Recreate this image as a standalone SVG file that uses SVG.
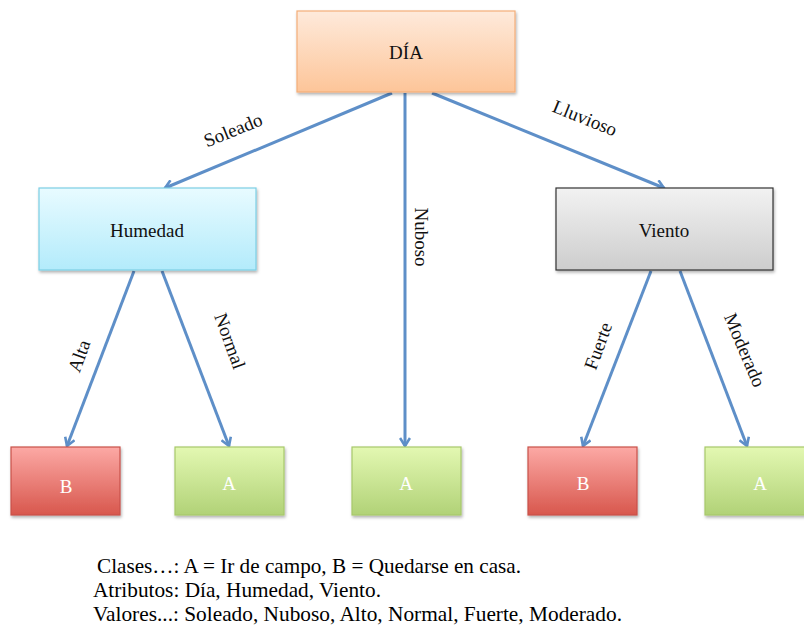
<svg xmlns="http://www.w3.org/2000/svg" width="804" height="628" viewBox="0 0 804 628">
  <defs>
    <linearGradient id="gDia" x1="0" y1="0" x2="0" y2="1">
      <stop offset="0" stop-color="#feeadb"/>
      <stop offset="1" stop-color="#fdc599"/>
    </linearGradient>
    <linearGradient id="gHum" x1="0" y1="0" x2="0" y2="1">
      <stop offset="0" stop-color="#e8fbff"/>
      <stop offset="1" stop-color="#b3ebfb"/>
    </linearGradient>
    <linearGradient id="gVie" x1="0" y1="0" x2="0" y2="1">
      <stop offset="0" stop-color="#f2f2f2"/>
      <stop offset="1" stop-color="#cdcdcd"/>
    </linearGradient>
    <linearGradient id="gB" x1="0" y1="0" x2="0" y2="1">
      <stop offset="0" stop-color="#fca9a5"/>
      <stop offset="1" stop-color="#d8574d"/>
    </linearGradient>
    <linearGradient id="gA" x1="0" y1="0" x2="0" y2="1">
      <stop offset="0" stop-color="#e3f8b2"/>
      <stop offset="1" stop-color="#b1d277"/>
    </linearGradient>
    <filter id="shadow" x="-10%" y="-10%" width="125%" height="130%">
      <feDropShadow dx="1" dy="2" stdDeviation="1.5" flood-color="#000" flood-opacity="0.3"/>
    </filter>
    <marker id="arrow" viewBox="0 0 12 12" refX="10" refY="6" markerWidth="12" markerHeight="12" markerUnits="userSpaceOnUse" orient="auto">
      <path d="M2,1 L10,6 L2,11" fill="none" stroke="#5e8fc8" stroke-width="2.6" stroke-linejoin="miter"/>
    </marker>
  </defs>
  <style>
    .box { filter: url(#shadow); stroke-width: 1.2; }
    .lbl { font-family: "Liberation Serif", "DejaVu Serif", serif; font-size: 19px; fill: #111; text-anchor: middle; dominant-baseline: central; }
    .leaf { font-family: "Liberation Serif", "DejaVu Serif", serif; font-size: 19px; fill: #fff; text-anchor: middle; dominant-baseline: central; }
    .edge { stroke: #5e8fc8; stroke-width: 3; fill: none; marker-end: url(#arrow); }
    .elbl { font-family: "Liberation Serif", "DejaVu Serif", serif; font-size: 19px; fill: #111; text-anchor: middle; dominant-baseline: central; }
    .note { font-family: "Liberation Serif", "Times New Roman", serif; font-size: 21px; fill: #000; }
  </style>

  <rect width="804" height="628" fill="#fff"/>

  <!-- connectors -->
  <g id="connectors">
    <line class="edge" x1="392" y1="93" x2="165" y2="188"/>
    <line class="edge" x1="405" y1="93" x2="405" y2="446"/>
    <line class="edge" x1="432" y1="93" x2="664" y2="188"/>
    <line class="edge" x1="134" y1="271" x2="67" y2="446"/>
    <line class="edge" x1="162" y1="271" x2="229" y2="446"/>
    <line class="edge" x1="651" y1="271" x2="583" y2="446"/>
    <line class="edge" x1="680" y1="271" x2="747" y2="446"/>
    <text class="elbl" transform="translate(233,130) rotate(-22)">Soleado</text>
    <text class="elbl" transform="translate(585,118) rotate(22)">Lluvioso</text>
    <text class="elbl" transform="translate(421,237) rotate(90)">Nuboso</text>
    <text class="elbl" transform="translate(79,356) rotate(-70)">Alta</text>
    <text class="elbl" transform="translate(230,341) rotate(70)">Normal</text>
    <text class="elbl" transform="translate(598,346) rotate(-70)">Fuerte</text>
    <text class="elbl" transform="translate(745,350) rotate(67)">Moderado</text>
  </g>

  <!-- root -->
  <g id="dia">
    <rect class="box" x="297" y="11" width="218" height="81" fill="url(#gDia)" stroke="#f4ae78"/>
    <text class="lbl" x="406" y="52">DÍA</text>
  </g>

  <!-- attribute nodes -->
  <g id="humedad">
    <rect class="box" x="39" y="188" width="217" height="82" fill="url(#gHum)" stroke="#7ccfe5"/>
    <text class="lbl" x="147" y="230">Humedad</text>
  </g>
  <g id="viento">
    <rect class="box" x="556" y="188" width="217" height="82" fill="url(#gVie)" stroke="#333"/>
    <text class="lbl" x="664" y="230">Viento</text>
  </g>

  <!-- leaves -->
  <g id="leaf-b1">
    <rect class="box" x="11" y="447" width="109" height="68" fill="url(#gB)" stroke="#c9514a"/>
    <text class="leaf" x="66" y="486">B</text>
  </g>
  <g id="leaf-a1">
    <rect class="box" x="175" y="447" width="109" height="68" fill="url(#gA)" stroke="#a7c86b"/>
    <text class="leaf" x="229" y="483">A</text>
  </g>
  <g id="leaf-a2">
    <rect class="box" x="352" y="447" width="109" height="68" fill="url(#gA)" stroke="#a7c86b"/>
    <text class="leaf" x="406" y="483">A</text>
  </g>
  <g id="leaf-b2">
    <rect class="box" x="528" y="447" width="109" height="68" fill="url(#gB)" stroke="#c9514a"/>
    <text class="leaf" x="583" y="483">B</text>
  </g>
  <g id="leaf-a3">
    <rect class="box" x="705" y="447" width="109" height="68" fill="url(#gA)" stroke="#a7c86b"/>
    <text class="leaf" x="760" y="483">A</text>
  </g>

  <!-- legend -->
  <g id="legend">
    <text class="note" x="97" y="573" textLength="424" lengthAdjust="spacingAndGlyphs">Clases…: A = Ir de campo, B = Quedarse en casa.</text>
    <text class="note" x="93" y="597" textLength="288" lengthAdjust="spacingAndGlyphs">Atributos: Día, Humedad, Viento.</text>
    <text class="note" x="93" y="621" textLength="529" lengthAdjust="spacingAndGlyphs">Valores...: Soleado, Nuboso, Alto, Normal, Fuerte, Moderado.</text>
  </g>
</svg>
